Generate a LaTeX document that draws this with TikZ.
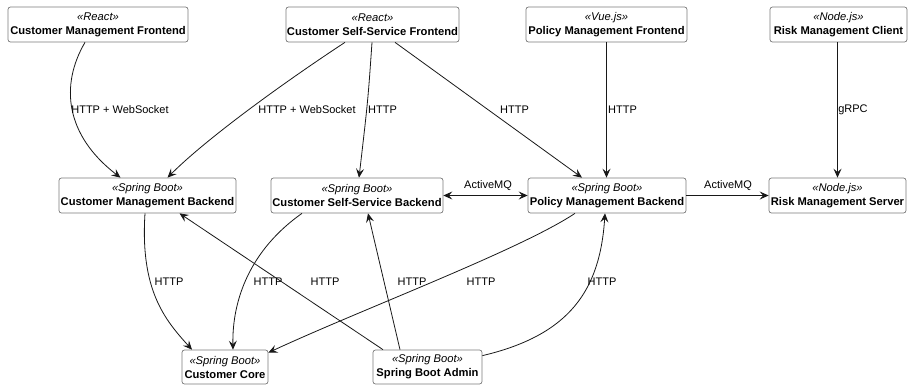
\documentclass[tikz,border=0pt]{standalone}
\usepackage{fontspec}
\setmainfont{Liberation Sans}
\usetikzlibrary{arrows.meta}
\definecolor{boxline}{HTML}{7A7A7A}
\definecolor{wire}{HTML}{181818}
\begin{document}
\begin{tikzpicture}[x=1pt,y=-1pt,
  comp/.style={draw=boxline, rounded corners=2.5pt, line width=0.7pt, fill=white,
    align=center, inner sep=0pt, font=\fontsize{11.2}{14}\selectfont},
  lbl/.style={font=\fontsize{11}{13}\selectfont, inner sep=0pt, text=black},
  conn/.style={draw=wire, line width=0.8pt, -{Stealth[length=9pt,width=8pt,inset=3.5pt]}},
  both/.style={conn, {Stealth[length=9pt,width=8pt,inset=3.5pt]}-{Stealth[length=9pt,width=8pt,inset=3.5pt]}},
]
\useasboundingbox (0,0) rectangle (911,389);

% components
\newcommand{\comptext}[2]{\textit{«#1»}\\\textbf{#2}}
\node[comp, minimum width=180pt, minimum height=35pt] (cmf)  at (98,24.5)    {\comptext{React}{Customer Management Frontend}};
\node[comp, minimum width=173pt, minimum height=35pt] (cssf) at (372.5,24.5) {\comptext{React}{Customer Self-Service Frontend}};
\node[comp, minimum width=161pt, minimum height=35pt] (pmf)  at (606.5,24.5) {\comptext{Vue.js}{Policy Management Frontend}};
\node[comp, minimum width=137pt, minimum height=35pt] (rmc)  at (838.5,24.5) {\comptext{Node.js}{Risk Management Client}};

\node[comp, minimum width=177pt, minimum height=35pt] (cmb)  at (147.5,195.5) {\comptext{Spring Boot}{Customer Management Backend}};
\node[comp, minimum width=172pt, minimum height=35pt] (cssb) at (357,195.5)   {\comptext{Spring Boot}{Customer Self-Service Backend}};
\node[comp, minimum width=158pt, minimum height=35pt] (pmb)  at (607,195.5)   {\comptext{Spring Boot}{Policy Management Backend}};
\node[comp, minimum width=137pt, minimum height=35pt] (rms)  at (837.5,195.5) {\comptext{Node.js}{Risk Management Server}};

\node[comp, minimum width=86pt,  minimum height=34pt] (cc)   at (225,367)   {\comptext{Spring Boot}{Customer Core}};
\node[comp, minimum width=109pt, minimum height=34pt] (sba)  at (427.5,367) {\comptext{Spring Boot}{Spring Boot Admin}};

% frontends to backends
\draw[conn] ([xshift=-13pt]cmf.south) .. controls (60,85) and (65,135) .. ([xshift=-27pt]cmb.north);
\draw[conn] ([xshift=-27.5pt]cssf.south) .. controls (280,85) and (205,140) .. ([xshift=20pt]cmb.north);
\draw[conn] ([xshift=-0.5pt]cssf.south) .. controls (368,100) .. ([xshift=2pt]cssb.north);
\draw[conn] ([xshift=22.5pt]cssf.south) -- ([xshift=-25pt]pmb.north);
\draw[conn] (pmf.south) -- (pmf.south |- pmb.north);
\draw[conn] ([xshift=-1pt]rmc.south) -- (rms.north);

% messaging between backends
\draw[both] (cssb.east) -- (pmb.west);
\draw[conn] (pmb.east) -- (rms.west);

% backends to the core
\draw[conn] ([xshift=-2.5pt]cmb.south) .. controls (140,290) and (165,320) .. ([xshift=-33pt]cc.north);
\draw[conn] ([xshift=-55pt]cssb.south) .. controls (250,250) and (232,300) .. ([xshift=8pt]cc.north);
\draw[conn] ([xshift=-32pt]pmb.south) .. controls (520,250) and (360,310) .. ([yshift=-3pt]cc.north east);

% admin monitoring
\draw[conn] ([xshift=-44.5pt]sba.north) -- ([xshift=32pt]cmb.south);
\draw[conn] ([xshift=-27.5pt]sba.north) -- ([xshift=11pt]cssb.south);
\draw[conn] ([yshift=-6pt]sba.north east) .. controls (570,335) and (600,290) .. ([xshift=-2pt]pmb.south);

% labels
\node[lbl] (l1)  at (120,110)   {HTTP + WebSocket};
\node[lbl] (l2)  at (307,110)   {HTTP + WebSocket};
\node[lbl] (l3)  at (382.5,110) {HTTP};
\node[lbl] (l4)  at (514.5,110) {HTTP};
\node[lbl] (l5)  at (622.5,110) {HTTP};
\node[lbl] (l6)  at (853,110)   {gRPC};
\node[lbl] (l7)  at (488,186)   {ActiveMQ};
\node[lbl] (l8)  at (728,186)   {ActiveMQ};
\node[lbl] (l9)  at (169,282)   {HTTP};
\node[lbl] (l10) at (268,282)   {HTTP};
\node[lbl] (l11) at (325,282)   {HTTP};
\node[lbl] (l12) at (412,282)   {HTTP};
\node[lbl] (l13) at (481,282)   {HTTP};
\node[lbl] (l14) at (602,282)   {HTTP};
\end{tikzpicture}
\end{document}
